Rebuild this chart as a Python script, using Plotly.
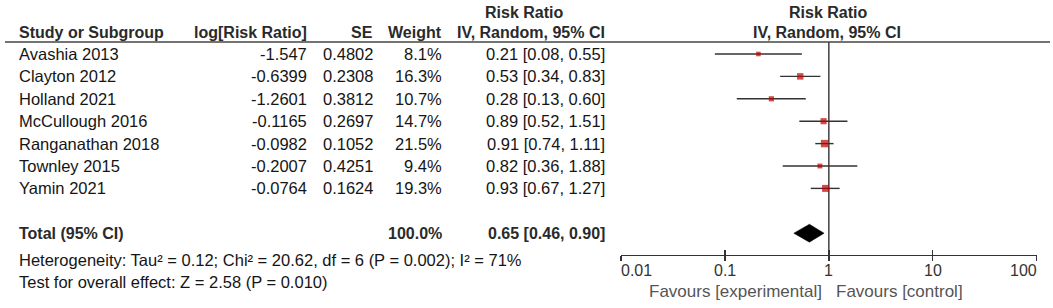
import math
import plotly.graph_objects as go

# ---------------- data ----------------
studies = ["Avashia 2013", "Clayton 2012", "Holland 2021", "McCullough 2016",
           "Ranganathan 2018", "Townley 2015", "Yamin 2021"]
log_rr = ["-1.547", "-0.6399", "-1.2601", "-0.1165", "-0.0982", "-0.2007", "-0.0764"]
se = ["0.4802", "0.2308", "0.3812", "0.2697", "0.1052", "0.4251", "0.1624"]
weights = [8.1, 16.3, 10.7, 14.7, 21.5, 9.4, 19.3]
rr = [0.21, 0.53, 0.28, 0.89, 0.91, 0.82, 0.93]
ci_lo = [0.08, 0.34, 0.13, 0.52, 0.74, 0.36, 0.67]
ci_hi = [0.55, 0.83, 0.60, 1.51, 1.11, 1.88, 1.27]
total_weight = 100.0
total_rr, total_lo, total_hi = 0.65, 0.46, 0.90
tick_vals = [0.01, 0.1, 1, 10, 100]
tick_labels = ["0.01", "0.1", "1", "10", "100"]
heterogeneity = "Heterogeneity: Tau² = 0.12; Chi² = 20.62, df = 6 (P = 0.002); I² = 71%"
overall = "Test for overall effect: Z = 2.58 (P = 0.010)"

# ---------------- layout constants ----------------
W, H = 1053, 308
ROW0, PITCH = 54.0, 22.4          # pixel y of first row, row pitch
AXIS_Y = 255.0                    # pixel y of the x axis line
HEAD_Y = 42.0                     # header underline
X_LEFT, X_RIGHT = 621.0, 1036.7   # pixel x of 0.01 and 100
TOTAL_ROW = len(studies) + 1

def px(x):
    return x / W

def py(y):
    return 1 - y / H

def row_pix(r):
    return ROW0 + PITCH * r

def pix_row(y):
    return (y - ROW0) / PITCH

FONT = "Liberation Sans, Arial, sans-serif"
TXT = "#151515"
HDR = "#2a2a2a"
LINE = "#333333"

fig = go.Figure()

# CI whiskers
cx, cy = [], []
for i, (lo, hi) in enumerate(zip(ci_lo, ci_hi)):
    cx += [lo, hi, None]
    cy += [i, i, None]
fig.add_trace(go.Scatter(x=cx, y=cy, mode="lines", line=dict(color=LINE, width=1.4),
                         hoverinfo="skip", showlegend=False))

# vertical line of no effect
fig.add_trace(go.Scatter(x=[1, 1], y=[pix_row(HEAD_Y), pix_row(AXIS_Y)], mode="lines",
                         line=dict(color=LINE, width=1.4), hoverinfo="skip", showlegend=False))

# squares
fig.add_trace(go.Scatter(x=rr, y=list(range(len(rr))), mode="markers",
                         marker=dict(symbol="square", color="#c00000",
                                     size=[1.6 * math.sqrt(w) for w in weights],
                                     line=dict(width=0)),
                         hoverinfo="skip", showlegend=False))

# diamond
dh = 0.4
fig.add_trace(go.Scatter(x=[total_lo, total_rr, total_hi, total_rr, total_lo],
                         y=[TOTAL_ROW, TOTAL_ROW - dh, TOTAL_ROW, TOTAL_ROW + dh, TOTAL_ROW],
                         mode="lines", fill="toself", fillcolor="#000000",
                         line=dict(color="#000000", width=0.5),
                         hoverinfo="skip", showlegend=False))

# dummy trace for the upward ticks axis
fig.add_trace(go.Scatter(x=[1], y=[0], xaxis="x2", yaxis="y", mode="markers",
                         marker=dict(opacity=0), hoverinfo="skip", showlegend=False))

ann = []

def text(x, y, s, anchor="left", bold=False, color=TXT, size=16.5):
    if bold:
        s = "<b>" + s + "</b>"
        size = 16
    ann.append(dict(x=px(x), y=py(y), xref="paper", yref="paper", text=s, showarrow=False,
                    xanchor=anchor, yanchor="middle", borderpad=0, borderwidth=0,
                    font=dict(family=FONT, size=size, color=color)))

# headers
text(19, 33, "Study or Subgroup", bold=True, color=HDR)
text(307, 33, "log[Risk Ratio]", "right", bold=True, color=HDR)
text(373, 33, "SE", "right", bold=True, color=HDR)
text(442, 33, "Weight", "right", bold=True, color=HDR)
text(523.5, 12.5, "Risk Ratio", "center", bold=True, color=HDR)
text(531, 33, "IV, Random, 95% CI", "center", bold=True, color=HDR)
text(828, 12.5, "Risk Ratio", "center", bold=True, color=HDR)
text(827, 33, "IV, Random, 95% CI", "center", bold=True, color=HDR)

# study rows
for i, s in enumerate(studies):
    y = row_pix(i)
    text(19, y, s)
    text(307, y, log_rr[i], "right")
    text(373, y, se[i], "right")
    text(442, y, f"{weights[i]:.1f}%", "right")
    text(605, y, f"{rr[i]:.2f} [{ci_lo[i]:.2f}, {ci_hi[i]:.2f}]", "right")

# total
yt = row_pix(TOTAL_ROW)
text(19, yt, "Total (95% CI)", bold=True, color=HDR)
text(442, yt, f"{total_weight:.1f}%", "right", bold=True, color=HDR)
text(605, yt, f"{total_rr:.2f} [{total_lo:.2f}, {total_hi:.2f}]", "right", bold=True, color=HDR)
text(19, 259.5, heterogeneity)
text(19, 281.5, overall)

# tick labels (first left aligned, last right aligned)
for v, lab in zip(tick_vals, tick_labels):
    anchor = "left" if v == tick_vals[0] else ("right" if v == tick_vals[-1] else "center")
    ann.append(dict(x=math.log10(v), y=py(270.5), xref="x", yref="paper", text=lab,
                    showarrow=False, xanchor=anchor, yanchor="middle", borderpad=0,
                    borderwidth=0, font=dict(family=FONT, size=16, color="#333333")))

# favours labels
ann.append(dict(x=0, y=py(291.5), xref="x", yref="paper", text="Favours [experimental]",
                showarrow=False, xanchor="right", xshift=-7, yanchor="middle", borderpad=0,
                borderwidth=0, font=dict(family=FONT, size=17, color="#555555")))
ann.append(dict(x=0, y=py(291.5), xref="x", yref="paper", text="Favours [control]",
                showarrow=False, xanchor="left", xshift=7, yanchor="middle", borderpad=0,
                borderwidth=0, font=dict(family=FONT, size=17, color="#555555")))

fig.update_layout(
    width=W, height=H, margin=dict(l=0, r=0, t=0, b=0),
    paper_bgcolor="white", plot_bgcolor="white",
    annotations=ann,
    shapes=[dict(type="line", xref="paper", yref="paper", x0=px(5), x1=px(1050),
                 y0=py(HEAD_Y), y1=py(HEAD_Y), line=dict(color="#444444", width=1.5))],
    xaxis=dict(type="log", range=[-2, 2], domain=[px(X_LEFT), px(X_RIGHT)],
               showgrid=False, zeroline=False, showline=True, linecolor=LINE, linewidth=1.4,
               ticks="outside", ticklen=5, tickwidth=1.4, tickcolor=LINE,
               tickvals=tick_vals, showticklabels=False, fixedrange=True),
    xaxis2=dict(type="log", range=[-2, 2], overlaying="x", anchor="y", side="bottom",
                showgrid=False, zeroline=False, showline=False,
                ticks="inside", ticklen=5, tickwidth=1.4, tickcolor=LINE,
                tickvals=tick_vals, showticklabels=False, fixedrange=True),
    yaxis=dict(range=[pix_row(AXIS_Y), pix_row(0)], domain=[1 - AXIS_Y / H, 1],
               visible=False, fixedrange=True),
)

fig.write_html("out.html", config={"displayModeBar": False, "staticPlot": True},
               post_script="document.body.style.margin='0';document.body.style.overflow='hidden';")
